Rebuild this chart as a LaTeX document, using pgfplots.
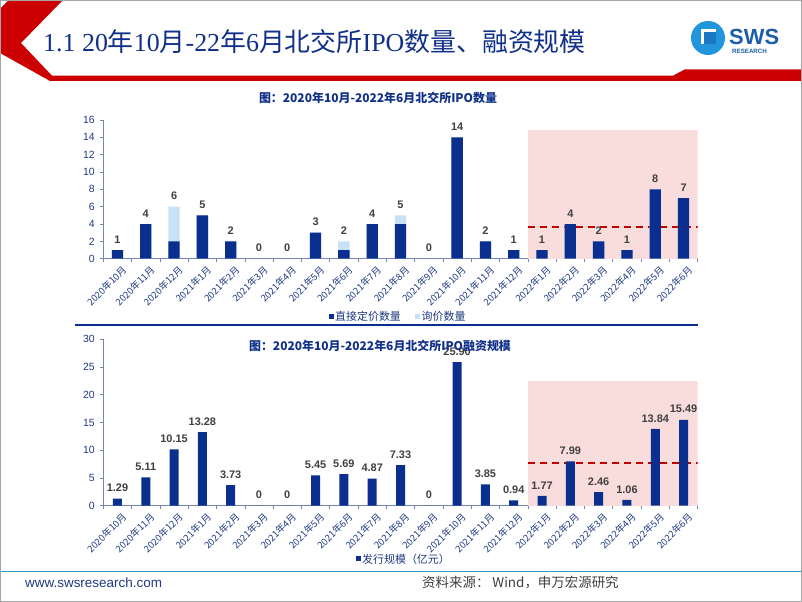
\documentclass[border=0pt]{standalone}
\usepackage{pgfplots}
\pgfplotsset{compat=1.18}
\usepackage{pgfplotstable}
\usepackage{fontspec}
\setmainfont{Liberation Sans}
\newfontfamily\cjk{Noto Sans CJK SC}
\newfontfamily\serif{Liberation Serif}
\newcommand{\fs}[1]{\fontsize{#1}{#1}\selectfont}

\definecolor{barblue}{HTML}{0A2F8E}
\definecolor{lightblue}{HTML}{C7E2F6}
\definecolor{pinkbg}{HTML}{F9DDDD}
\definecolor{dashred}{HTML}{C00000}
\definecolor{hdrred}{HTML}{CC0000}
\definecolor{titleblue}{HTML}{11308A}
\definecolor{navy}{HTML}{1F3A80}
\definecolor{axiscol}{HTML}{7485B5}
\definecolor{lblgray}{HTML}{404040}
\definecolor{tealline}{HTML}{2E9BC6}
\definecolor{logoblue}{HTML}{2196DC}
\definecolor{swsblue}{HTML}{1B5FAA}

% d = direct pricing, q = inquiry, t = total (label)
\pgfplotstableread{
x d q t l
0 1 0 1 1
1 4 0 4 4
2 2 4 6 6
3 5 0 5 5
4 2 0 2 2
5 0 0 0 0
6 0 0 0 0
7 3 0 3 3
8 1 1 2 2
9 4 0 4 4
10 4 1 5 5
11 0 0 0 0
12 14 0 14 14
13 2 0 2 2
14 1 0 1 1
15 1 0 1 1
16 4 0 4 4
17 2 0 2 2
18 1 0 1 1
19 8 0 8 8
20 7 0 7 7
}\ipotable

\pgfplotstableread{
x v l
0 1.29 1.29
1 5.11 5.11
2 10.15 10.15
3 13.28 13.28
4 3.73 3.73
5 0 0
6 0 0
7 5.45 5.45
8 5.69 5.69
9 4.87 4.87
10 7.33 7.33
11 0 0
12 25.90 25.90
13 3.85 3.85
14 0.94 0.94
15 1.77 1.77
16 7.99 7.99
17 2.46 2.46
18 1.06 1.06
19 13.84 13.84
20 15.49 15.49
}\fundtable

\pgfplotsset{
  slideaxis/.style={
    scale only axis,
    anchor=south west,
    width=594.4bp,
    xmin=-0.5, xmax=20.5,
    ymin=0,
    axis lines*=left,
    axis line style={draw=axiscol, line width=0.8bp, -},
    tick align=outside,
    major tick length=3bp,
    minor tick length=3bp,
    every tick/.style={draw=axiscol, line width=0.6bp},
    xtick={0,...,20},
    major x tick style={draw=none},
    minor xtick={-0.5,0.5,...,20.5},
    xticklabels={2020年10月,2020年11月,2020年12月,2021年1月,2021年2月,2021年3月,2021年4月,2021年5月,2021年6月,2021年7月,2021年8月,2021年9月,2021年10月,2021年11月,2021年12月,2022年1月,2022年2月,2022年3月,2022年4月,2022年5月,2022年6月},
    xticklabel style={font={\cjk\fs{9.5}}, text=navy, rotate=45, anchor=north east, inner sep=0pt, xshift=0.5bp, yshift=-5bp},
    yticklabel style={font=\fs{10.5}, text=navy, xshift=-2bp},
    /pgf/number format/assume math mode=true,
    nodes near coords style={font={\bfseries\fs{11}}, text=lblgray, anchor=south, inner sep=1.5bp, yshift=5bp},
    refline/.style={sharp plot, draw=dashred, line width=2bp, dash pattern=on 7bp off 5bp, mark=none, forget plot},
  }
}

\begin{document}
\begin{tikzpicture}[x=1bp, y=1bp]
\useasboundingbox (0,0) rectangle (802,602);
\fill[white] (0,0) rectangle (802,602);

% header
\fill[hdrred] (9,602) -- (63,602) -- (21,559) -- (52,526.3) -- (673,526.3) -- (685,532.7) -- (802,532.7) -- (802,521) -- (50,521) -- (0,549) -- (0,593) -- cycle;
\node[anchor=base west, text=titleblue, inner sep=0] at (43,550) {\fs{26}\serif 1.1 20{\cjk 年}10{\cjk 月}-22{\cjk 年}6{\cjk 月}{\cjk 北交所}IPO{\cjk 数量、融资规模}};

% logo
\fill[logoblue] (708,564) circle (17);
\fill[white] (701,573) rectangle (716,558);
\fill[logoblue!70!barblue] (704,570) rectangle (716,558);
\foreach \yy in {571,567,563,559} {\fill[white] (692,602-\yy) rectangle (700,600.4-\yy);}
\node[anchor=base west, inner sep=0, text=swsblue] at (729,557) {\bfseries\fs{22}SWS};
\node[anchor=west, inner sep=0, text=swsblue] at (732,550.5) {\bfseries\fs{6.2}RESEARCH};

% top chart title
\node[text=titleblue, inner sep=0] at (378,504) {\cjk\bfseries\fs{12}图：2020年10月-2022年6月北交所IPO数量};

\begin{axis}[slideaxis, at={(103.3bp,343.3bp)}, height=138.7bp,
  ybar, bar width=11.3bp, ymax=16, ytick={0,2,...,16}]
\fill[pinkbg] (axis cs:14.5,0) rectangle (axis cs:20.5,14.85);
\addplot[refline] coordinates {(14.5,3.65) (20.5,3.65)};
\addplot[fill=lightblue, draw=none, bar shift=0pt, nodes near coords, point meta=explicit symbolic] table[x=x, y=t, meta=l] {\ipotable};
\addplot[fill=barblue, draw=none, bar shift=0pt] table[x=x, y=d] {\ipotable};
\end{axis}

% top legend
\fill[barblue] (329,287.8) rectangle (334,282.8);
\node[anchor=west, inner sep=0, text=navy] at (335,285.3) {\cjk\fs{11}直接定价数量};
\fill[lightblue] (415,287.8) rectangle (420,282.8);
\node[anchor=west, inner sep=0, text=navy] at (421.5,285.3) {\cjk\fs{11}询价数量};

\draw[barblue, line width=2bp] (75,277) -- (698,277);

\begin{axis}[slideaxis, at={(103.3bp,96.3bp)}, height=166.4bp,
  ybar, bar width=9bp, ymax=30, ytick={0,5,...,30}]
\fill[pinkbg] (axis cs:14.5,0) rectangle (axis cs:20.5,22.4);
\addplot[refline] coordinates {(14.5,7.75) (20.5,7.75)};
\addplot[fill=barblue, draw=none, nodes near coords, point meta=explicit symbolic] table[x=x, y=v, meta=l] {\fundtable};
\end{axis}

\node[text=titleblue, inner sep=0] at (380,256) {\cjk\bfseries\fs{12}图：2020年10月-2022年6月北交所IPO融资规模};

% bottom legend
\fill[barblue] (355.5,46) rectangle (361,40.5);
\node[anchor=west, inner sep=0, text=navy] at (362,43) {\cjk\fs{11}发行规模（亿元）};

% footer
\draw[tealline, line width=1.5bp] (0,30.3) -- (802,30.3);
\node[anchor=base west, inner sep=0, text=navy] at (25,14) {\fs{13.5}www.swsresearch.com};
\node[anchor=base west, inner sep=0, text=lblgray] at (422,14) {\cjk\fs{13.5}资料来源： Wind，申万宏源研究};

\draw[gray!70, line width=1bp] (0.5,0.5) rectangle (801.5,601.5);
\end{tikzpicture}
\end{document}
